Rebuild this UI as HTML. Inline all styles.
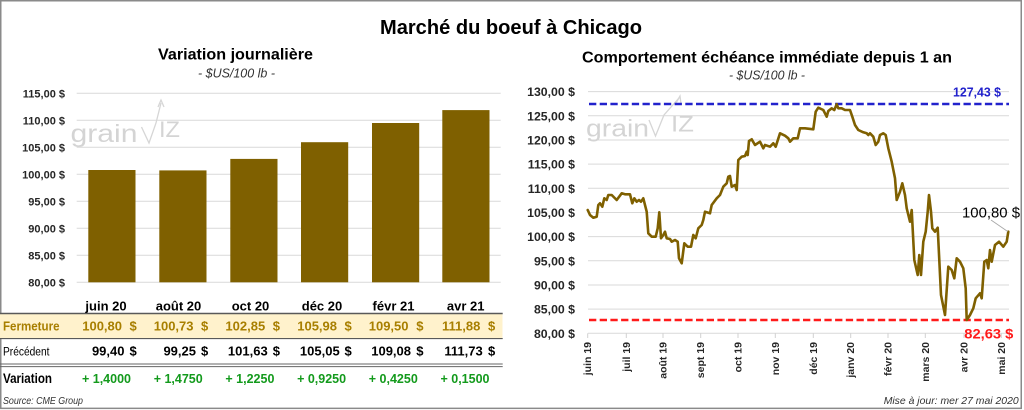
<!DOCTYPE html>
<html><head><meta charset="utf-8">
<style>
html,body{margin:0;padding:0;background:#fff;}
svg{display:block;}
text{font-family:"Liberation Sans",Arial,sans-serif;}
</style></head>
<body>
<svg width="1024" height="410" viewBox="0 0 1024 410" xmlns="http://www.w3.org/2000/svg">
<rect x="0" y="0" width="1024" height="410" fill="#fff"/>
<rect x="0.75" y="0.75" width="1020.5" height="407.6" fill="none" stroke="#8a8a8a" stroke-width="1.5"/>

<!-- Titles -->
<text x="511" y="34" font-size="20" font-weight="bold" text-anchor="middle" textLength="262" lengthAdjust="spacingAndGlyphs" fill="#000">Marché du boeuf à Chicago</text>
<text x="235.5" y="59.5" font-size="15.5" font-weight="bold" text-anchor="middle" textLength="155" lengthAdjust="spacingAndGlyphs" fill="#000">Variation journalière</text>
<text x="236.5" y="77.5" font-size="12.5" font-style="italic" text-anchor="middle" textLength="77" lengthAdjust="spacingAndGlyphs" fill="#333">- $US/100 lb -</text>
<text x="767" y="62.5" font-size="16" font-weight="bold" text-anchor="middle" textLength="370" lengthAdjust="spacingAndGlyphs" fill="#000">Comportement échéance immédiate depuis 1 an</text>
<text x="767" y="79.5" font-size="12.5" font-style="italic" text-anchor="middle" textLength="76" lengthAdjust="spacingAndGlyphs" fill="#333">- $US/100 lb -</text>

<!-- LEFT CHART gridlines -->
<g stroke="#d9d9d9" stroke-width="1">
<line x1="76.7" y1="93.3" x2="500.7" y2="93.3"/>
<line x1="76.7" y1="120.3" x2="500.7" y2="120.3"/>
<line x1="76.7" y1="147.3" x2="500.7" y2="147.3"/>
<line x1="76.7" y1="174.3" x2="500.7" y2="174.3"/>
<line x1="76.7" y1="201.3" x2="500.7" y2="201.3"/>
<line x1="76.7" y1="228.3" x2="500.7" y2="228.3"/>
<line x1="76.7" y1="255.3" x2="500.7" y2="255.3"/>
<line x1="76.7" y1="282.3" x2="500.7" y2="282.3"/>
</g>
<g font-size="11" font-weight="bold" text-anchor="end" fill="#262626">
<text x="65" y="97.3">115,00 $</text>
<text x="65" y="124.3">110,00 $</text>
<text x="65" y="151.3">105,00 $</text>
<text x="65" y="178.3">100,00 $</text>
<text x="65" y="205.3">95,00 $</text>
<text x="65" y="232.3">90,00 $</text>
<text x="65" y="259.3">85,00 $</text>
<text x="65" y="286.3">80,00 $</text>
</g>

<!-- left watermark -->
<g fill="none" stroke="#d6d6d6" stroke-width="1.3">
<polyline points="141.5,127 149,143 156,123 161,103"/>
<polyline points="158,107 161,100 164,107"/>
</g>
<text x="70.5" y="142" font-size="25" fill="#d4d4d4" textLength="67" lengthAdjust="spacingAndGlyphs">grain</text>
<text x="159" y="137" font-size="22" fill="#d4d4d4" textLength="21" lengthAdjust="spacingAndGlyphs">IZ</text>

<!-- bars -->
<g fill="#7f6000">
<rect x="88.3" y="170.0" width="47.2" height="112.3"/>
<rect x="159.3" y="170.4" width="47.2" height="111.9"/>
<rect x="230.3" y="158.9" width="47.2" height="123.4"/>
<rect x="301" y="142.2" width="47.2" height="140.1"/>
<rect x="372" y="123.0" width="47.2" height="159.3"/>
<rect x="442.3" y="110.1" width="47.2" height="172.2"/>
</g>

<!-- TABLE -->
<rect x="0" y="314" width="502.5" height="24.3" fill="#fff2cc"/>
<line x1="0" y1="313.5" x2="502.7" y2="313.5" stroke="#595959" stroke-width="1.4"/>
<line x1="0" y1="338.6" x2="502.7" y2="338.6" stroke="#595959" stroke-width="1.1"/>
<line x1="0" y1="364" x2="502.7" y2="364" stroke="#666" stroke-width="1"/>
<line x1="0" y1="366.6" x2="502.7" y2="366.6" stroke="#666" stroke-width="1"/>

<g font-size="13" font-weight="bold" text-anchor="middle" fill="#000">
<text x="106" y="310.5">juin 20</text>
<text x="178.5" y="310.5">août 20</text>
<text x="250.5" y="310.5">oct 20</text>
<text x="322" y="310.5">déc 20</text>
<text x="393.5" y="310.5">févr 21</text>
<text x="465.7" y="310.5">avr 21</text>
</g>

<text x="3" y="330.5" font-size="12.5" font-weight="bold" fill="#a87f00" textLength="56.5" lengthAdjust="spacingAndGlyphs">Fermeture</text>
<text x="3" y="355.5" font-size="11.5" fill="#000" textLength="46.5" lengthAdjust="spacingAndGlyphs">Précédent</text>
<text x="3" y="383" font-size="13.5" font-weight="bold" fill="#000" textLength="49" lengthAdjust="spacingAndGlyphs">Variation</text>
<text x="3" y="403.8" font-size="10.5" font-style="italic" fill="#333" textLength="80" lengthAdjust="spacingAndGlyphs">Source: CME Group</text>

<g font-size="13" font-weight="bold" fill="#a87f00">
<g text-anchor="end">
<text x="122" y="330.5">100,80</text>
<text x="193.5" y="330.5">100,73</text>
<text x="265.2" y="330.5">102,85</text>
<text x="337" y="330.5">105,98</text>
<text x="408.5" y="330.5">109,50</text>
<text x="480.3" y="330.5">111,88</text>
</g>
<text x="129.5" y="330.5">$</text>
<text x="201" y="330.5">$</text>
<text x="272.8" y="330.5">$</text>
<text x="344.5" y="330.5">$</text>
<text x="416.2" y="330.5">$</text>
<text x="488" y="330.5">$</text>
</g>

<g font-size="13" font-weight="bold" fill="#000">
<g text-anchor="end">
<text x="124.5" y="355.5">99,40</text>
<text x="196" y="355.5">99,25</text>
<text x="267.7" y="355.5">101,63</text>
<text x="339.7" y="355.5">105,05</text>
<text x="411" y="355.5">109,08</text>
<text x="482.7" y="355.5">111,73</text>
</g>
<text x="129.5" y="355.5">$</text>
<text x="201" y="355.5">$</text>
<text x="272.8" y="355.5">$</text>
<text x="344.5" y="355.5">$</text>
<text x="416.2" y="355.5">$</text>
<text x="488" y="355.5">$</text>
</g>

<g font-size="12.5" font-weight="bold" fill="#139a1c" text-anchor="middle">
<text x="106.5" y="383">+ 1,4000</text>
<text x="178.2" y="383">+ 1,4750</text>
<text x="249.9" y="383">+ 1,2250</text>
<text x="321.6" y="383">+ 0,9250</text>
<text x="393.3" y="383">+ 0,4250</text>
<text x="465" y="383">+ 0,1500</text>
</g>

<!-- RIGHT CHART -->
<g stroke="#d9d9d9" stroke-width="1">
<line x1="588" y1="91.6" x2="1009" y2="91.6"/>
<line x1="588" y1="115.8" x2="1009" y2="115.8"/>
<line x1="588" y1="140" x2="1009" y2="140"/>
<line x1="588" y1="164.1" x2="1009" y2="164.1"/>
<line x1="588" y1="188.3" x2="1009" y2="188.3"/>
<line x1="588" y1="212.5" x2="1009" y2="212.5"/>
<line x1="588" y1="236.6" x2="1009" y2="236.6"/>
<line x1="588" y1="260.8" x2="1009" y2="260.8"/>
<line x1="588" y1="285" x2="1009" y2="285"/>
<line x1="588" y1="309.1" x2="1009" y2="309.1"/>
<line x1="588" y1="333.3" x2="1009" y2="333.3"/>
</g>
<g stroke="#d0d0d0" stroke-width="1">
<line x1="587.7" y1="333.3" x2="587.7" y2="338"/>
<line x1="626.3" y1="333.3" x2="626.3" y2="338"/>
<line x1="663" y1="333.3" x2="663" y2="338"/>
<line x1="700.7" y1="333.3" x2="700.7" y2="338"/>
<line x1="738" y1="333.3" x2="738" y2="338"/>
<line x1="775.3" y1="333.3" x2="775.3" y2="338"/>
<line x1="813.3" y1="333.3" x2="813.3" y2="338"/>
<line x1="850.7" y1="333.3" x2="850.7" y2="338"/>
<line x1="888" y1="333.3" x2="888" y2="338"/>
<line x1="925.3" y1="333.3" x2="925.3" y2="338"/>
<line x1="964" y1="333.3" x2="964" y2="338"/>
<line x1="1001.3" y1="333.3" x2="1001.3" y2="338"/>
</g>

<g font-size="12.3" font-weight="bold" text-anchor="end" fill="#262626">
<text x="575" y="96.1">130,00 $</text>
<text x="575" y="120.3">125,00 $</text>
<text x="575" y="144.5">120,00 $</text>
<text x="575" y="168.6">115,00 $</text>
<text x="575" y="192.8">110,00 $</text>
<text x="575" y="217">105,00 $</text>
<text x="575" y="241.1">100,00 $</text>
<text x="575" y="265.3">95,00 $</text>
<text x="575" y="289.5">90,00 $</text>
<text x="575" y="313.6">85,00 $</text>
<text x="575" y="337.8">80,00 $</text>
</g>

<g font-size="10.5" font-weight="bold" text-anchor="end" fill="#262626">
<text transform="translate(591.2,342) rotate(-90)">juin 19</text>
<text transform="translate(629.8,342) rotate(-90)">juil 19</text>
<text transform="translate(666.5,342) rotate(-90)">août 19</text>
<text transform="translate(704.2,342) rotate(-90)">sept 19</text>
<text transform="translate(741.5,342) rotate(-90)">oct 19</text>
<text transform="translate(778.8,342) rotate(-90)">nov 19</text>
<text transform="translate(816.8,342) rotate(-90)">déc 19</text>
<text transform="translate(854.2,342) rotate(-90)">janv 20</text>
<text transform="translate(891.5,342) rotate(-90)">févr 20</text>
<text transform="translate(928.8,342) rotate(-90)">mars 20</text>
<text transform="translate(967.5,342) rotate(-90)">avr 20</text>
<text transform="translate(1004.8,342) rotate(-90)">mai 20</text>
</g>

<!-- right watermark -->
<g fill="none" stroke="#d6d6d6" stroke-width="1.3">
<polyline points="649,120 655.5,136 664,115 679,98"/>
<polyline points="676,103 680,96 681,104"/>
</g>
<text x="586" y="136.5" font-size="24" fill="#d4d4d4" textLength="63" lengthAdjust="spacingAndGlyphs">grain</text>
<text x="671" y="131.5" font-size="22" fill="#d4d4d4" textLength="23" lengthAdjust="spacingAndGlyphs">IZ</text>

<!-- max/min dashed lines -->
<line x1="589" y1="104" x2="1009" y2="104" stroke="#2222cc" stroke-width="2.4" stroke-dasharray="7.3,3.4"/>
<line x1="589" y1="320" x2="1009" y2="320" stroke="#ff1a1a" stroke-width="2.4" stroke-dasharray="7.3,3.4"/>

<!-- price line -->
<polyline fill="none" stroke="#7f6000" stroke-width="2.6" stroke-linejoin="round" stroke-linecap="round" points="
587.7,210 590,215 593.3,217.7 596.7,216.7 598.3,205 600,203.3 602.3,206.7 604.3,198.3 606.7,200 608.3,195 611.7,195 616.7,200 621.7,193.3 625,194.3 630,194.3 632.3,203.3 634.3,198.3 636.7,201.7 639,200 641,201.7 643.3,198.3 646.7,211.7 648.3,233.3 651.7,236.7 655.7,236.7 657.7,228.3 659.3,212.3 661,238.3 663.3,235 665,231.7 666.7,238.3 670,239 671.7,241.7 675,240 677.7,241.7 679,258.3 681.7,263.3 684.3,243.3 687.7,246.7 691,246.7 693.3,235 695.7,238.3 698.3,228.3 701.7,225 703.3,220 705,211.7 710,213.3 711.7,205 716.7,198.3 720,195 723.3,186.7 726.7,183.3 728.3,176.7 730,176 731.7,186.7 735,185 736.7,190 738.3,160 741.7,156.7 745,156 746.7,151.7 747.7,155 749,141 751.7,139.3 755,145 760,141.7 763.3,148.3 765,145 770,146.7 773.3,143.3 775.7,146.7 780,133.3 785,135.7 788.3,138.3 790,141.7 793.3,138.3 797.7,138.3 800,128.3 805,128.3 813.3,129.3 815.7,111.7 818.3,107.7 823.3,110 826.7,116.7 828.3,111 831.7,108.3 834.3,110 836.7,104.2 838.3,108.3 841.7,108.3 845,110 850,110 852.3,116.7 855,125 858.3,130 863.3,132.3 866.7,133.3 868.3,135 870,133.3 873.3,136.7 875.7,145 878.3,141.7 880,135 883.3,133.3 885.7,135 888.3,148.3 891.7,161.7 895,178.3 896.7,200 900,191.7 902.3,183.3 905,195 906.7,208.3 910,221.7 911.7,210 914.3,260 917.7,275 919.3,255 921,275 923.3,241.7 925.7,231.7 927.7,211.7 929,195 931,211.7 932.3,228.3 935,231.7 937.7,227.7 941,295 945,315 948.3,266.7 951.7,270 954.3,278.3 956.7,258.3 960,261.7 963.3,268.3 965.7,288.3 966.7,320 970,315 973.3,308.3 975.7,298.3 980,293.3 981.7,298.3 984.3,261.7 986.7,260 988.3,268.3 990,250 991.7,261.7 995,245 999,241.7 1003.3,246.7 1006.7,241.7 1008.3,231.7"/>

<!-- labels -->
<text x="1001" y="96.7" font-size="13" font-weight="bold" text-anchor="end" fill="#2222cc" textLength="48" lengthAdjust="spacingAndGlyphs">127,43 $</text>
<line x1="991" y1="220" x2="1007.7" y2="231.5" stroke="#a6a6a6" stroke-width="0.8"/>
<text x="962" y="217.3" font-size="15" fill="#000" textLength="58" lengthAdjust="spacingAndGlyphs">100,80 $</text>
<text x="964.3" y="338.3" font-size="14" font-weight="bold" fill="#ff1a1a" textLength="49" lengthAdjust="spacingAndGlyphs">82,63 $</text>

<text x="1018.7" y="404" font-size="10.5" font-style="italic" text-anchor="end" fill="#333" textLength="135" lengthAdjust="spacingAndGlyphs">Mise à jour: mer 27 mai 2020</text>
</svg>
</body></html>
